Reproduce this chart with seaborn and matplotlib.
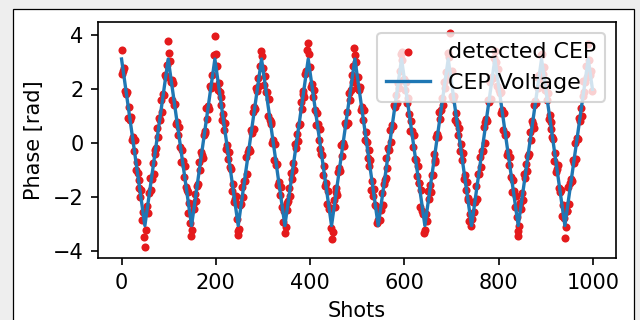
import numpy as np
import matplotlib
matplotlib.use("Agg")
import matplotlib.pyplot as plt
from matplotlib.patches import Rectangle
import seaborn as sns

# shot index of every detected sample (every second shot)
shots = np.arange(0, 1000, 2)

# detected CEP phase [rad], one value per entry of `shots`
detected_cep = [
    # 0 .. 98
    3.45, 2.54, 2.65, 2.77, 1.93, 1.79, 1.88, 0.92, 1.32, 0.84, 0.97, 0.11, 0.21, -0.28, 0.10, -1.01, -0.71,
    -1.09, -1.66, -1.38, -1.98, -1.73, -2.83, -2.53, -3.48, -3.85, -3.22, -2.31, -2.60, -1.85, -1.31, -1.74,
    -1.34, -0.74, -1.16, -0.39, -0.25, -0.20, 0.57, 0.21, 0.94, 0.86, 1.60, 1.14, 1.79, 1.76, 2.52, 2.45,
    2.87, 3.75,
    # 100 .. 198
    3.32, 3.02, 2.24, 2.34, 1.59, 2.20, 1.41, 1.45, 0.69, 0.79, 0.31, 0.60, -0.15, -0.69, -0.26, -0.66, -1.26,
    -0.84, -1.61, -1.75, -1.80, -2.57, -2.21, -2.94, -3.45, -3.23, -2.27, -2.43, -1.90, -2.16, -1.59, -1.52,
    -0.72, -0.99, -0.32, -0.43, -0.55, 0.30, 0.44, 0.35, 1.30, 0.90, 1.38, 1.26, 2.12, 2.02, 2.50, 2.12,
    3.23, 3.96,
    # 200 .. 296
    3.28, 2.86, 1.94, 2.22, 1.87, 1.42, 1.69, 0.83, 1.06, 0.49, 0.74, -0.22, -0.07, -0.60, -0.34, -0.90,
    -0.97, -1.77, -1.50, -2.18, -2.07, -1.94, -2.79, -3.38, -3.25, -3.18, -2.28, -2.26, -1.64, -2.01, -1.41,
    -1.40, -0.52, -1.13, -0.34, -0.23, -0.30, 0.48, 0.38, 1.13, 0.52, 1.31, 1.27, 2.03, 1.93, 2.41, 2.12,
    2.86, 3.41,
    # 298 .. 396
    3.20, 2.75, 2.13, 2.49, 1.89, 1.88, 1.01, 1.62, 0.83, 0.71, 0.78, 0.00, 0.10, -0.64, -0.03, -0.83, -0.79,
    -1.55, -1.45, -1.92, -1.63, -2.38, -2.93, -2.50, -3.32, -3.12, -2.20, -2.48, -2.13, -1.68, -1.95, -1.09,
    -1.32, -0.74, -1.00, -0.04, -0.19, 0.34, 0.08, 0.65, 0.71, 1.51, 1.24, 1.92, 1.81, 1.69, 2.53, 2.67,
    3.45, 3.70,
    # 398 .. 494
    3.30, 2.81, 2.05, 2.16, 1.68, 1.97, 1.22, 0.67, 1.10, 0.71, 0.11, 0.53, -0.24, -0.39, -0.44, -1.20,
    -0.84, -1.57, -1.49, -2.24, -1.78, -2.42, -2.39, -3.15, -3.56, -3.30, -2.09, -2.36, -1.68, -1.80, -1.92,
    -1.07, -0.93, -1.02, -0.06, -0.47, 0.01, -0.11, 0.75, 0.65, 1.14, 0.75, 1.86, 1.57, 1.95, 2.52, 2.24,
    2.83, 3.50,
    # 496 .. 594
    3.25, 3.00, 2.04, 2.44, 1.96, 2.08, 1.23, 1.33, 0.84, 1.22, 0.11, 0.40, 0.02, -0.54, -0.26, -0.86, -0.61,
    -1.72, -1.42, -1.95, -1.69, -2.29, -2.31, -2.95, -2.85, -2.42, -2.85, -2.46, -1.86, -2.28, -1.51, -1.36,
    -1.31, -0.54, -0.91, -0.18, -0.26, 0.49, 0.03, 0.68, 0.64, 1.40, 1.33, 1.76, 1.46, 2.23, 2.04, 2.65,
    3.27, 3.35,
    # 596 .. 692
    3.07, 2.31, 2.38, 1.96, 2.26, 1.49, 1.67, 1.06, 0.44, 0.80, 0.44, -0.15, 0.31, -0.59, -0.61, -1.22,
    -0.86, -1.46, -1.47, -2.35, -1.74, -2.52, -2.64, -3.34, -3.23, -2.63, -2.88, -1.77, -2.07, -1.54, -1.80,
    -1.20, -1.18, -0.39, -0.64, -0.70, 0.23, 0.33, 0.23, 1.15, 0.88, 1.22, 1.67, 1.40, 2.26, 2.03, 2.61,
    2.35, 3.31,
    # 694 .. 792
    3.16, 4.07, 2.62, 2.67, 1.74, 1.64, 1.75, 0.83, 1.10, 0.75, 0.30, 0.57, -0.29, -0.05, -0.63, -0.38, -1.34,
    -1.19, -1.72, -1.45, -2.02, -2.09, -2.89, -2.62, -3.05, -2.81, -2.19, -2.55, -2.19, -1.60, -2.06, -1.16,
    -1.14, -0.52, -0.89, -0.29, -0.28, 0.60, -0.01, 0.78, 0.89, 0.82, 1.60, 1.50, 2.25, 1.64, 2.43, 2.39,
    3.15, 3.40,
    # 794 .. 890
    3.00, 2.12, 2.73, 1.95, 1.83, 1.90, 1.12, 1.22, 0.47, 1.09, 0.29, 0.33, -0.43, -0.33, -0.81, -0.51,
    -1.26, -1.81, -1.38, -1.78, -2.38, -1.95, -2.72, -3.45, -3.25, -3.07, -2.21, -2.44, -1.86, -2.12, -1.16,
    -1.31, -0.78, -1.04, -0.47, -0.41, 0.39, 0.12, 0.80, 0.69, 0.57, 1.41, 1.55, 1.46, 2.42, 2.02, 2.50,
    2.37, 3.23,
    # 892 .. 990
    3.28, 2.54, 2.81, 1.95, 2.18, 1.60, 1.86, 0.90, 1.05, 0.52, 0.78, 0.21, 0.14, -0.65, -0.38, -1.06, -0.95,
    -0.83, -1.68, -1.81, -1.72, -2.68, -2.28, -2.76, -3.52, -3.12, -2.52, -2.52, -1.64, -2.25, -1.46, -1.34,
    -1.41, -0.63, -0.74, 0.01, -0.60, 0.20, 0.16, 0.92, 0.81, 1.29, 1.00, 1.75, 2.30, 1.87, 2.26, 2.86,
    2.44, 3.67,
    # 992 .. 998
    3.05, 2.50, 2.65, 1.91,
]

# corner points of the applied CEP voltage ramp
voltage_shots = [0, 49.5, 99, 148.5, 198, 247.5, 297, 346.5, 396, 445.5, 495,
                 544.5, 594, 643.5, 693, 742.5, 792, 841.5, 891, 940.5, 990, 999]
voltage_phase = [3.1, -3.05, 3.1, -3.05, 3.1, -3.05, 3.1, -3.05, 3.1, -3.05, 3.1,
                 -3.05, 3.1, -3.05, 3.1, -3.05, 3.1, -3.05, 3.1, -3.05, 3.1, 1.98]

fig = plt.figure(figsize=(640 / 150, 320 / 150), dpi=150, facecolor="#eeeeee")
# white page with a thin black border behind the plot
fig.patches.append(Rectangle((13 / 640, -0.05), 621 / 640, 1.05 - 9 / 320,
                             transform=fig.transFigure, facecolor="white",
                             edgecolor="black", linewidth=0.6, zorder=-1))
ax = fig.add_axes([98 / 640, 62 / 320, 518 / 640, 236 / 320])

sns.scatterplot(x=shots, y=detected_cep, ax=ax, color="#e41a1c", s=15,
                linewidth=0, label="detected CEP")
sns.lineplot(x=voltage_shots, y=voltage_phase, ax=ax, color="#1f77b4",
             linewidth=1.6, label="CEP Voltage")

ax.set_xlabel("Shots")
ax.set_ylabel("Phase [rad]")
ax.set_xticks([0, 200, 400, 600, 800, 1000])
ax.set_yticks([-4, -2, 0, 2, 4])
ax.legend(loc="upper right", fontsize=10.6)

fig.savefig("out.png", dpi=150, facecolor=fig.get_facecolor())
